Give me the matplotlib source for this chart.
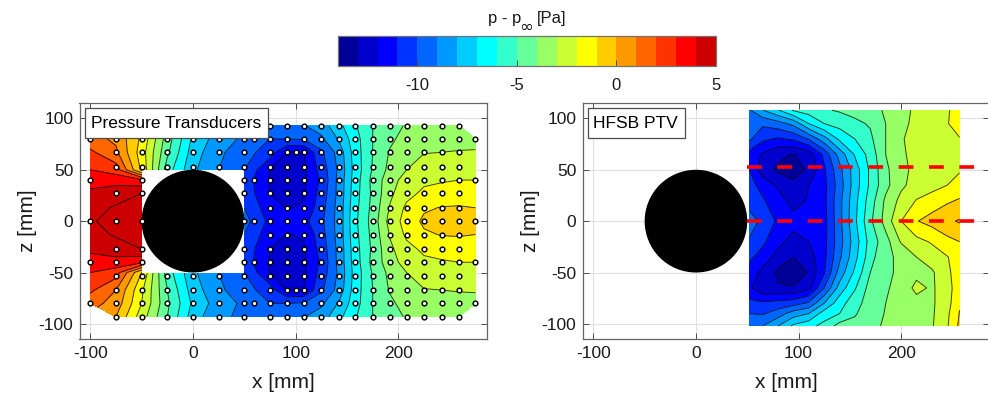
import matplotlib
matplotlib.use("Agg")
import matplotlib.pyplot as plt
import numpy as np
from matplotlib.colors import ListedColormap, BoundaryNorm
from matplotlib.patches import Circle, Rectangle
from matplotlib.cm import ScalarMappable

plt.rcParams['font.family'] = ['Liberation Sans', 'DejaVu Sans']
plt.rcParams['axes.unicode_minus'] = False

nan = np.nan

# colour bands, one per Pa
band_edges = np.arange(-14, 6)
band_colors = [(0, 0, .6), (0, 0, .8), (0, 0, 1), (0, .2, 1), (0, .4, 1), (0, .6, 1), (0, .8, 1),
               (0, 1, 1), (.2, 1, .8), (.4, 1, .6), (.6, 1, .4), (.8, 1, .2), (1, 1, 0), (1, .8, 0),
               (1, .6, 0), (1, .4, 0), (1, .2, 0), (1, 0, 0), (.8, 0, 0)]
line_levels = np.arange(-14, 7)

# pressure transducers
pt_x = [-100, -75, -50, -25, 0, 25, 50, 75, 92, 108, 125, 142, 158, 175, 192, 208, 225, 242, 259, 275]
pt_z = [93, 80, 67, 50, 40, 27, 13, 0, -13, -27, -40, -50, -67, -80, -93]
pt_p = [
    [nan, .6, -1.6, -4.2, -7.2, -8.6, -9.4, -9.9, -9.5, -9.05, -8.5, -7.3, -6.1, -5.0, -4.4, -3.9, -3.6, -3.5, -3.5, nan],
    [1.4, .8, -1.2, -4.5, -7.2, -8.5, -9.2, -10.0, -10.0, -9.9, -9.2, -7.9, -6.4, -5.0, -4.2, -3.6, -3.4, -3.3, -3.3, -3.4],
    [2.2, 1.2, -1.5, -4.8, -7.5, -8.8, -9.6, -10.5, -12.1, -12.0, -10.2, -8.6, -6.5, -5.0, -3.9, -3.1, -3.05, -3.0, -2.95, -2.9],
    [3.0, 2.5, -1.2, -5.5, -7.8, -9.0, -10.0, -12.0, -12.3, -12.2, -10.6, -8.8, -6.6, -4.9, -3.7, -3.0, -2.4, -2.3, -2.2, -2.2],
    [3.6, 3.6, 3.2, nan, nan, nan, -10.4, -12.1, -12.5, -12.2, -10.8, -8.7, -6.5, -4.7, -3.4, -2.6, -2.2, -2.1, -2.0, -2.0],
    [4.2, 4.6, 5.0, nan, nan, nan, -10.3, -12.0, -12.3, -12.1, -10.6, -8.7, -6.4, -4.8, -3.2, -2.3, -1.8, -1.6, -1.6, -1.7],
    [4.7, 5.1, 5.3, nan, nan, nan, -10.0, -11.6, -12.05, -11.9, -10.4, -8.6, -6.3, -4.7, -2.9, -1.8, -1.15, -.95, -.9, -1.0],
    [4.9, 5.3, 5.5, nan, nan, nan, -9.6, -11.3, -11.5, -11.3, -10.2, -8.6, -6.2, -4.6, -2.6, -1.6, -.8, -.55, -.5, -.6],
    [4.7, 5.1, 5.3, nan, nan, nan, -10.0, -11.6, -12.05, -11.9, -10.4, -8.6, -6.3, -4.7, -2.9, -1.8, -1.15, -.95, -.9, -1.0],
    [4.2, 4.6, 5.0, nan, nan, nan, -10.3, -12.0, -12.3, -12.1, -10.6, -8.7, -6.4, -4.8, -3.2, -2.3, -1.8, -1.6, -1.6, -1.7],
    [3.6, 3.6, 3.2, nan, nan, nan, -10.4, -12.1, -12.5, -12.2, -10.8, -8.7, -6.5, -4.7, -3.4, -2.6, -2.2, -2.1, -2.0, -2.0],
    [3.0, 2.5, -1.0, -5.5, -7.8, -9.0, -10.0, -12.0, -12.3, -12.2, -10.6, -8.8, -6.6, -4.9, -3.7, -3.0, -2.4, -2.3, -2.2, -2.2],
    [2.2, 1.0, -1.8, -5.0, -7.5, -8.8, -9.6, -10.5, -12.1, -12.0, -10.2, -8.6, -6.5, -5.0, -3.9, -3.1, -3.05, -3.0, -2.95, -2.9],
    [1.4, .6, -2.0, -4.8, -7.2, -8.5, -9.2, -10.0, -10.0, -9.9, -9.2, -7.9, -6.4, -5.0, -4.2, -3.6, -3.4, -3.3, -3.3, -3.4],
    [nan, 0.0, -2.5, -5.0, -7.5, -8.8, -9.2, -9.9, -9.5, -9.05, -8.5, -7.3, -6.1, -5.0, -4.4, -3.9, -3.6, -3.5, -3.5, nan],
]

# HFSB PTV field
ptv_x = [52, 65, 80, 95, 110, 125, 140, 155, 170, 185, 200, 215, 230, 245, 257]
ptv_z = [108, 95, 80, 65, 50, 35, 20, 0, -20, -35, -50, -65, -80, -90, -102]
ptv_p = [
    [-9.1, -8.05, -7.05, -5.9, -5.5, -5.1, -4.9, -4.7, -4.3, -3.9, -3.5, -2.7, -2.3, -2.1, -1.6],
    [-9.4, -9.8, -9.4, -8.7, -7.0, -6.0, -5.6, -5.2, -4.9, -4.0, -3.3, -2.7, -2.3, -2.05, -1.6],
    [-9.8, -10.8, -11.1, -10.85, -9.9, -8.4, -6.8, -6.0, -5.2, -4.0, -3.1, -2.6, -2.3, -2.2, -2.05],
    [-11.4, -12.1, -12.8, -13.05, -12.6, -10.7, -8.6, -6.9, -5.6, -4.0, -3.2, -2.6, -2.3, -2.35, -2.3],
    [-11.0, -12.6, -13.15, -13.4, -12.85, -11.15, -9.3, -7.5, -5.8, -4.2, -3.3, -2.7, -2.3, -2.3, -2.1],
    [-10.7, -11.3, -12.2, -12.8, -12.0, -11.3, -9.5, -7.5, -5.8, -4.3, -3.2, -2.6, -2.4, -2.0, -1.6],
    [-10.4, -10.9, -11.5, -12.4, -11.9, -11.25, -9.3, -7.3, -5.5, -3.8, -2.7, -1.95, -1.5, -1.15, -.9],
    [-9.6, -10.2, -11.2, -11.6, -11.4, -11.35, -9.3, -7.2, -5.2, -3.6, -2.0, -1.05, -.65, -.2, .1],
    [-10.1, -10.8, -11.7, -12.4, -12.0, -11.3, -9.4, -7.5, -5.6, -4.4, -2.9, -2.3, -1.9, -1.3, -1.0],
    [-10.8, -11.4, -12.4, -13.0, -12.5, -11.25, -9.2, -7.3, -5.4, -4.1, -3.9, -3.0, -2.5, -2.05, -1.5],
    [-11.4, -12.3, -13.2, -13.7, -12.9, -11.1, -8.6, -6.8, -5.0, -4.2, -3.8, -3.3, -3.15, -2.2, -1.5],
    [-11.8, -12.8, -12.9, -12.9, -12.3, -10.0, -7.6, -6.1, -4.6, -4.1, -3.7, -2.7, -3.15, -2.4, -1.4],
    [-10.7, -10.8, -10.6, -10.4, -9.8, -8.0, -6.4, -5.4, -4.5, -4.0, -3.6, -3.4, -3.15, -2.4, -1.1],
    [-10.0, -10.1, -9.5, -8.5, -8.0, -6.5, -6.0, -5.1, -4.4, -3.95, -3.6, -3.4, -3.15, -2.2, -.95],
    [-9.3, -9.0, -8.0, -6.8, -6.3, -5.7, -4.6, -4.7, -4.2, -3.9, -3.6, -3.4, -3.1, -2.1, -.8],
]

# transducer port positions
all_rows = [93, 80, 67, 53, 40, 27, 13, 0, -13, -27, -40, -53, -67, -80, -93]
outer_rows = [93, 80, 67, 53, -53, -67, -80, -93]
port_rows = {
    -100: [80, 40, 0, -40, -80],
    -75: [93, 80, 67, 53, 27, 0, -27, -40, -53, -67, -80, -93],
    -50: [93, 80, 67, 53, 40, 27, 0, -27, -40, -53, -67, -80, -93],
    -25: outer_rows, 0: outer_rows, 25: outer_rows,
    50: [93, 80, 67, 53, 40, 27, 0, -27, -40, -53, -67, -80, -93],
    59: [80, 40, 0, -40, -80],
    75: all_rows, 92: all_rows,
    100: [67, -67],
    108: all_rows, 125: all_rows, 142: all_rows, 158: all_rows, 175: all_rows, 192: all_rows,
    208: all_rows, 225: all_rows, 242: all_rows, 259: all_rows,
    275: [80, 40, 0, -40, -80],
}

dash_z = [53, 0]
dash_x = [50, 275]

W, H = 988, 396
fig = plt.figure(figsize=(W / 100, H / 100), dpi=100)

def px_axes(x0, x1, y0, y1):
    return fig.add_axes([x0 / W, 1 - y1 / H, (x1 - x0) / W, (y1 - y0) / H])

cmap = ListedColormap(band_colors)
cmap.set_over(band_colors[-1])
cmap.set_under(band_colors[0])
norm = BoundaryNorm(band_edges, cmap.N)

def setup(ax):
    ax.set_xlim(-110.5, 286)
    ax.set_ylim(-115, 115)
    ax.set_xticks([-100, 0, 100, 200])
    ax.set_yticks([-100, -50, 0, 50, 100])
    ax.grid(True, color='0.88', lw=0.8)
    ax.set_axisbelow(True)
    ax.tick_params(direction='in', length=4, width=0.7, color='0.3', top=True, right=True,
                   labelsize=12.5, labelcolor='0.1', pad=4.5)
    for s in ax.spines.values():
        s.set_color('0.4')
        s.set_linewidth(0.9)
    ax.set_xlabel("x [mm]", fontsize=15, color='0.1', labelpad=9)
    ax.set_ylabel("z [mm]", fontsize=15, color='0.1', labelpad=1)

def field(ax, x, z, p):
    p = np.ma.masked_invalid(np.array(p))
    ax.contourf(x, z, p, levels=band_edges, cmap=cmap, norm=norm, extend='both', zorder=2)
    ax.contour(x, z, p, levels=line_levels, colors='k', linewidths=0.7, linestyles='solid',
               alpha=0.75, zorder=3)

def label(ax, txt, x0, x1):
    ax.add_patch(Rectangle((x0, 80.5), x1 - x0, 30, facecolor='white', edgecolor='0.3', lw=0.9, zorder=9))
    ax.text(x0 + 5, 95.5, txt, fontsize=12.5, color='k', va='center', ha='left', zorder=10)

# left panel
ax1 = px_axes(79.5, 486.7, 103, 339.3)
setup(ax1)
field(ax1, pt_x, pt_z, pt_p)
ax1.add_patch(Rectangle((-50, -50), 100, 100, facecolor='white', edgecolor='none', zorder=4))
ax1.add_patch(Circle((0, 0), 50, facecolor='k', edgecolor='none', zorder=5))
for col, rows in port_rows.items():
    ax1.plot([col] * len(rows), rows, 'o', ms=3.4, mfc='white', mec='k', mew=1.05, zorder=6)
label(ax1, "Pressure Transducers", -104.7, 73)

# right panel
ax2 = px_axes(582.6, 989.3, 103, 339.3)
setup(ax2)
field(ax2, ptv_x, ptv_z, ptv_p)
ax2.add_patch(Circle((0, 0), 50, facecolor='k', edgecolor='none', zorder=5))
for zd in dash_z:
    ax2.plot(dash_x, [zd, zd], color='r', lw=2.6, dashes=(4.1, 4.3), zorder=7)
label(ax2, "HFSB PTV", -105, -11)

# colour bar
cax = px_axes(337.7, 716, 35.7, 66)
cb = fig.colorbar(ScalarMappable(norm=norm, cmap=cmap), cax=cax, orientation='horizontal',
                  ticks=[-10, -5, 0, 5], spacing='proportional', drawedges=False)
cb.ax.minorticks_off()
cb.ax.tick_params(direction='in', length=4, width=0.7, color='0.3', labelsize=12, labelcolor='0.1', pad=9)
cb.outline.set_edgecolor('0.45')
cb.outline.set_linewidth(0.9)
fig.text(487.5 / W, 1 - 18 / H, "p - p", fontsize=12, color='0.1', ha='left', va='center')
fig.text(526 / W, 1 - 27 / H, "\u221e", fontsize=12, color='0.1', ha='center', va='center', family='DejaVu Sans')
fig.text(537 / W, 1 - 18 / H, "[Pa]", fontsize=12, color='0.1', ha='left', va='center')

fig.savefig("out.png", dpi=100)
